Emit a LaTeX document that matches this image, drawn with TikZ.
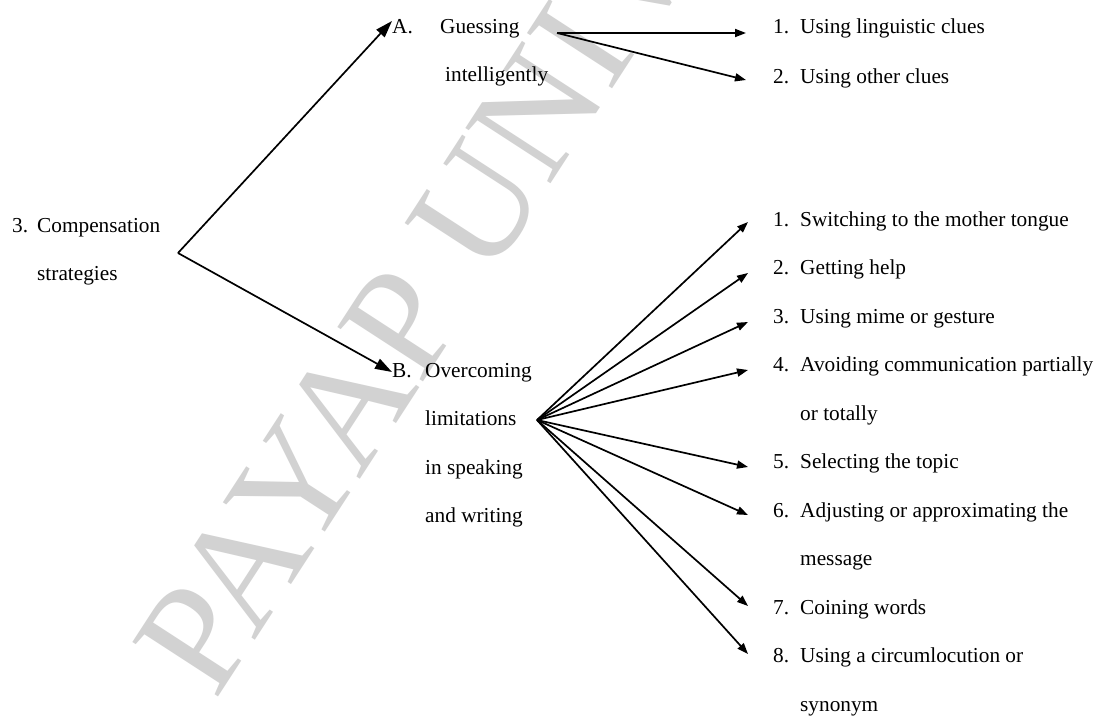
\documentclass[tikz,border=0pt]{standalone}
\usepackage{fontspec}
\setmainfont{Liberation Serif}
\usetikzlibrary{arrows.meta}
\definecolor{wmgray}{RGB}{210,210,210}
\newcommand\entry[3]{\begin{tabular}[t]{@{}p{#1}@{}l@{}}#2&#3\end{tabular}}
\tikzset{
  lbl/.style={inner sep=0pt, anchor=base west, font=\fontsize{21.3}{48.5}\selectfont},
  fan/.style={line width=1.7pt, -{Triangle[length=11pt,width=8pt]}},
  big/.style={line width=1.7pt, -{Triangle[length=17pt,width=11pt]}},
  wm/.style={inner sep=0pt, anchor=base west, text=wmgray, font=\fontsize{155}{155}\selectfont}
}
\begin{document}
\begin{tikzpicture}[x=1pt,y=-1pt]
\useasboundingbox (0,0) rectangle (1096,718);
\clip (0,0) rectangle (1096,718);
\fill[white] (0,0) rectangle (1096,718);
% watermark
\node[wm, rotate=57] (wmark) at (215,702) {PAYAP UNIVERSITY};
% texts
\node[lbl] (comp) at (12,232) {\entry{25pt}{3.}{Compensation\\ & strategies}};
\node[lbl] (A) at (392,33) {\entry{48pt}{A.}{Guessing\\ & \hspace*{5pt}intelligently}};
\node[lbl] (a1) at (773,33) {\entry{27pt}{1.}{Using linguistic clues}};
\node[lbl] (a2) at (773,83) {\entry{27pt}{2.}{Using other clues}};
\node[lbl] (B) at (392,377) {\entry{33pt}{B.}{Overcoming\\ & limitations\\ & in speaking\\ & and writing}};
\node[lbl] (b1) at (773,226) {\entry{27pt}{1.}{Switching to the mother tongue}};
\node[lbl] (b2) at (773,274.5) {\entry{27pt}{2.}{Getting help}};
\node[lbl] (b3) at (773,323) {\entry{27pt}{3.}{Using mime or gesture}};
\node[lbl] (b4) at (773,371.5) {\entry{27pt}{4.}{Avoiding communication partially\\ & or totally}};
\node[lbl] (b5) at (773,468.5) {\entry{27pt}{5.}{Selecting the topic}};
\node[lbl] (b6) at (773,517) {\entry{27pt}{6.}{Adjusting or approximating the\\ & message}};
\node[lbl] (b7) at (773,614) {\entry{27pt}{7.}{Coining words}};
\node[lbl] (b8) at (773,662.5) {\entry{27pt}{8.}{Using a circumlocution or\\ & synonym}};
% hubs and tips
\coordinate (hubC) at (178,253);
\coordinate (hubA) at (557,33);
\coordinate (hubB) at (537,420);
\coordinate (tA) at (392,21);
\coordinate (tB) at (392,372);
\coordinate (ta1) at (746,33);
\coordinate (ta2) at (746,80);
\coordinate (tb1) at (748,222);
\coordinate (tb2) at (748,273);
\coordinate (tb3) at (748,322);
\coordinate (tb4) at (748,370);
\coordinate (tb5) at (748,467);
\coordinate (tb6) at (748,515);
\coordinate (tb7) at (748,606);
\coordinate (tb8) at (748,654);
% connectors
\draw[big] (hubC) -- (tA);
\draw[big] (hubC) -- (tB);
\draw[fan] (hubA) -- (ta1);
\draw[fan] (hubA) -- (ta2);
\foreach \t in {tb1,tb2,tb3,tb4,tb5,tb6,tb7,tb8}{\draw[fan] (hubB) -- (\t);}
\end{tikzpicture}
\end{document}
